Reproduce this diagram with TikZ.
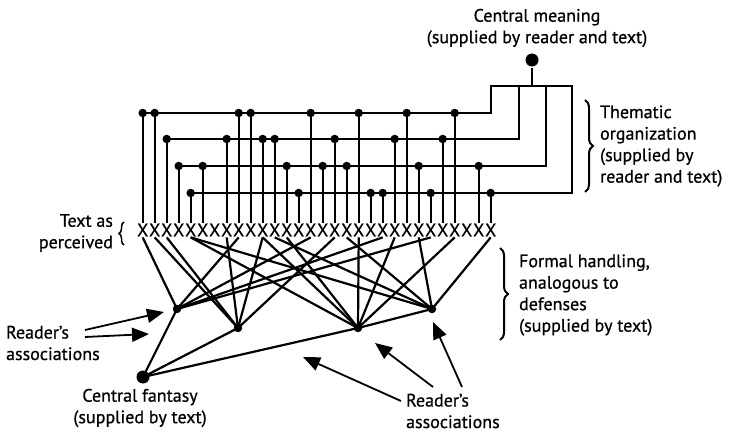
\documentclass[tikz,border=0pt]{standalone}
\usepackage{fontspec}
\setmainfont{PT Sans}[FakeBold=0.7]
\usetikzlibrary{arrows.meta, decorations.pathreplacing}

\begin{document}
\begin{tikzpicture}[
    x=1pt, y=-1pt,
    line width=2.2pt,
    >={Triangle[length=17pt, width=14pt]},
    smallDot/.style={circle, fill, inner sep=0pt, minimum size=8.5pt},
    bigDot/.style={circle, fill, inner sep=0pt, minimum size=13pt},
    letterX/.style={inner sep=0pt, font=\fontsize{18}{18}\selectfont},
    noteText/.style={align=left, inner sep=0pt, font=\fontsize{18}{21.5}\selectfont},
    curly/.style={decorate, decoration={brace, amplitude=8pt}, line width=2pt},
  ]
  \useasboundingbox (0,0) rectangle (738,435);
  % text as perceived
  \foreach \i in {0,...,29}
    \node[letterX] (x\i) at ({142.7+12*\i},230) {X};
  \node[noteText, align=right, anchor=east] (perceived) at (114,233) {Text as\\perceived};
  \draw[curly, line width=1.5pt, decoration={amplitude=5pt}] (124,245) -- (124,222);
  % thematic organization
  \node[bigDot] (meaning) at (532,60) {};
  \node[noteText, align=center] (meaningL) at (537,28) {Central meaning\\(supplied by reader and text)};
  \draw (142.7,113) -- (491,113) -- (491,86) -- (572,86) -- (572,193) -- (190.7,193);
  \draw (519,86) -- (519,139) -- (166.7,139);
  \draw (546,86) -- (546,166) -- (178.7,166);
  \draw (meaning) -- (532,86);
  \foreach \i/\y in {0/113, 1/113, 2/139, 3/166, 4/193, 5/166, 7/139, 8/113, 9/113,
                     10/139, 11/139, 12/166, 13/193, 14/113, 15/166, 16/139, 17/166,
                     18/113, 19/193, 20/193, 21/139, 22/113, 23/166, 24/193, 25/139,
                     26/113, 28/166, 29/193}
  {
    \node[smallDot] (t\i) at ({142.7+12*\i},\y) {};
    \draw (t\i.center) -- (x\i.north);
  }
  \draw[curly] (585,100) -- (585,192);
  \node[noteText, anchor=west] (thematic) at (599,146) {Thematic\\organization\\(supplied by\\reader and text)};
  % formal handling
  \node[bigDot] (fantasy) at (143,377) {};
  \node[smallDot] (a1) at (177,309) {};
  \node[smallDot] (a2) at (238,328) {};
  \node[smallDot] (a3) at (358,328) {};
  \node[smallDot] (a4) at (432,309) {};
  \foreach \s/\t in {x0/a1, x8/a1, x14/a1, x20/a1, x24/a1,
                     x1/a2, x2/a2, x7/a2, x10/a2, x16/a2,
                     x4/a3, x10/a3, x12/a3, x18/a3, x21/a3, x26/a3,
                     x4/a4, x11/a4, x17/a4, x23/a4, x29/a4}
    \draw (\s.south) -- (\t.center);
  \draw (fantasy.center) -- (a1.center);
  \draw (fantasy.center) -- (a2.center);
  \draw (fantasy.center) -- (a3.center) -- (a4.center);
  \draw[curly] (500,248) -- (500,340);
  \node[noteText, anchor=west] (formal) at (518,295) {Formal handling,\\analogous to\\defenses\\(supplied by text)};
  \node[noteText, align=center] (fantasyL) at (140,408) {Central fantasy\\(supplied by text)};
  % reader's associations
  \node[noteText, anchor=west] (assocL) at (5,343) {Reader’s\\associations};
  \node[noteText, anchor=west] (assocB) at (405,411) {Reader’s\\associations};
  \coordinate (tailL1) at (85,330);
  \coordinate (tailL2) at (85,337);
  \coordinate (tipL1) at (164,312);
  \coordinate (tipL2) at (149,334);
  \coordinate (tailB1) at (401,401);
  \coordinate (tailB2) at (433,387);
  \coordinate (tailB3) at (462,387);
  \coordinate (tipB1) at (303,357);
  \coordinate (tipB2) at (375,343);
  \coordinate (tipB3) at (433,322);
  \draw[->, line width=1.8pt] (tailL1) -- (tipL1);
  \draw[->, line width=1.8pt] (tailL2) -- (tipL2);
  \draw[->, line width=1.8pt] (tailB1) -- (tipB1);
  \draw[->, line width=1.8pt] (tailB2) -- (tipB2);
  \draw[->, line width=1.8pt] (tailB3) -- (tipB3);
\end{tikzpicture}
\end{document}
